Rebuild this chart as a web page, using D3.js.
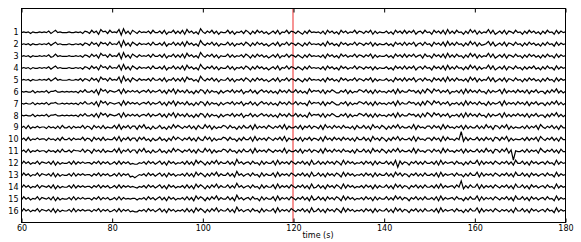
<!DOCTYPE html>
<html>
<head>
<meta charset="utf-8">
<script src="https://cdn.jsdelivr.net/npm/d3@7"></script>
<style>
  body { margin: 0; background: #fff; }
  svg text { font-family: "DejaVu Sans", sans-serif; font-size: 8px; fill: #000; }
</style>
</head>
<body>
<div class="chart"></div>
<script>
// Data: channel labels, x ticks, and one digit string per channel (one sample every 0.5 s, 60-180 s)
const channels = [1, 2, 3, 4, 5, 6, 7, 8, 9, 10, 11, 12, 13, 14, 15, 16];
const xTicks = [60, 80, 100, 120, 140, 160, 180];
const timeRange = [60, 180];
const markerTime = 120;

const ch1 = '4545354454 5463574544 4544545365 3746285637 4548193627 5364546374 4637254736 3728463529 5364736254 4736254637 5263746352 4637254736 5364263745 4536274635 2746354736 5364726354 4635274637 3647256374 5274637283 6374526384 7263548372 4637265374 5263746352 6374527364 5';
const ch2 = '4545354454 5463574544 4544545365 3746275637 4548193627 5364546374 4637254736 3728463529 5364736254 4736254637 5263746352 4637254736 5364263745 4536284635 2746354736 5364726354 4635274637 3647256374 5274637283 6374526384 7263458372 4637265374 5263746352 6374527364 5';
const ch3 = '4545354454 5463474544 4544545365 3746285637 4548193627 5364546374 4637254736 3728463529 5364736254 4736354637 5263746352 4637254736 5364263745 4536274635 2746354736 5364726354 4635274637 3647356274 5274637283 6374526384 7263548372 4637265374 5263746352 6374527364 5';
const ch4 = '4545354454 5463574544 4544545365 3746285637 4548293627 5364546374 4637254736 3728463529 5364736254 4736254637 5263746352 4637254736 5364263745 4536274635 2746354736 5364626354 4635274637 3647256374 5274637283 6374526384 7263548372 4637265374 5263647352 6374527364 5';
const ch5 = '4545354454 5463574544 4544546365 3746285637 4548193627 5364546374 4637254736 3728563529 5364736254 4736254637 5263746352 4637254736 5364263745 4536274635 2746354736 5364726354 4635274637 3647256374 5274637283 6374536284 7263548372 4637265374 5263746352 6374527364 5';
const ch6 = '5454463545 4635564454 5454536474 4637185736 5457283646 4635647364 5736274827 4637352637 6273645263 5647364725 4736257463 6352746374 4736352846 5637264753 3647263547 6473627364 5364728364 4756362738 6385736472 5463728374 6374527364 5728364637 4637264735 5263748363 5';
const ch7 = '5454463545 4635564454 5454536474 4637185736 5456283746 4635647364 5736274827 4637352637 6273645263 5647364725 4736257463 6352746374 4736452846 5637264753 3647263547 6473627364 5364728364 4756362738 6385736472 5463628374 6374527364 5728364637 4637264735 5263748363 5';
const ch8 = '5454463545 4635564454 5454536474 4637285736 5457283646 4635647364 5736274827 4637352637 6273645263 5647364725 4736357463 6352746374 4736352846 5637264753 3647263547 6473627364 5364728364 4756362738 6385736472 5463728374 6374527364 5728363647 4637264735 5263748363 5';
const ch9 = '4637354645 5364536374 4636454736 5274637354 4738264736 6274835263 4735263847 5364736274 3847263547 6374526374 4728364637 5364738264 4637264736 5372846374 6374536274 4736284637 5263748364 4638274536 6374628374 5364727364 4736384627 6374826354 4637364728 5364736274 4';
const ch10 = '4637354645 5364536374 4636454736 5274637354 4738264736 6274735263 4735263847 5364736274 3847263547 6374526374 4728364637 5364738264 4637264736 5372846374 6374636274 4736284637 5263748364 4638274536 6374628374 5364727364 4736374627 6374826354 4637364728 5364736274 4';
const ch11 = '4637354645 5364536374 4636554736 5274637354 4738264736 6274835263 4735263847 5364736274 3847263547 6374526374 4728364637 5364638264 4637264736 5372846374 6374536274 4736284637 5263748364 4638274536 6374628374 5364727364 4736384627 6374826354 4637364628 5364736274 4';
const ch12 = '3746354736 5463726354 4637364645 5364736463 4637364634 3354637463 5736274635 4637362847 5263748364 4736294635 6374527364 4728364637 5364736283 4736374637 5283746354 6374627364 4736284736 5264736374 4637283645 6374526374 4827364637 5364736284 4736274635 6374528364 5';
const ch13 = '3746354736 5463726354 4637364645 5364736463 4637364623 1354637463 5736274635 4637362847 5263748364 4736294635 6374527364 4728364637 5364736283 4736274637 5283746354 6374627364 4736284736 5264736374 4637283645 6374526374 4827364637 5364736284 4736274635 6374528364 5';
const ch14 = '3746354736 5463726354 4637364645 5364736463 4637364645 4354637463 5736274635 4637362847 5263748364 4736394635 6374527364 4728364637 5364736283 4736274637 5283746354 6374627364 4736284736 5264736374 4637383645 6374526374 4827364637 5364736284 4736274635 6374528364 5';
const ch15 = '3746354736 5463726354 4637364645 5364736463 4637364545 5354637463 5736274635 4637362847 5263748364 4736294635 6374527364 4728364637 5364736283 4736274637 5283746354 6374627364 4736384736 5264736374 4637283645 6374526374 4827364637 5364736284 4736274635 6374528364 5';
const ch16 = '3746354736 5463726354 4637364645 5364736463 4637364634 3354637463 5736274635 4637362847 5263748364 4736294635 6374527364 4728364637 5364736283 4736274637 5283746354 6374627364 4736284736 5264736374 4637283645 6374526374 4827364637 5364636284 4736274635 6374528364 5';
const traces = [ch1, ch2, ch3, ch4, ch5, ch6, ch7, ch8, ch9, ch10, ch11, ch12, ch13, ch14, ch15, ch16];

// Isolated spikes (channel, time in s, value in channel units)
const spikes = [
  { ch: 10, t: 157, v: 0.65 },
  { ch: 14, t: 157, v: 0.5 },
  { ch: 11, t: 168.5, v: -0.75 },
  { ch: 12, t: 143, v: -0.35 }
];

// Layout
const width = 581;
const height = 242;
const amp = 0.3; // half range of a digit trace, in channel units

const svg = d3.select('.chart')
  .append('svg')
  .attr('width', width)
  .attr('height', height);

const x = d3.scaleLinear().domain(timeRange).range([21.5, 565.5]);
const y = d3.scaleLinear().domain([-1, 17]).range([8.5, 222.5]);

// Turn a digit string into [time, value] samples
function parseTrace(str, ch) {
  const digits = str.replace(/\s+/g, '').split('').map(Number);
  const t = d3.scaleLinear().domain([0, digits.length - 1]).range(timeRange);
  const pts = digits.map((d, i) => [t(i), ch - (d - 4.5) / 4.5 * amp]);
  spikes.filter(s => s.ch === ch).forEach(s => {
    const i = Math.round(t.invert(s.t));
    pts[i] = [t(i), ch - s.v];
  });
  return pts;
}

const line = d3.line()
  .x(d => x(d[0]))
  .y(d => y(d[1]));

// Marker line, under the traces (half-pixel offset spreads it over two columns)
svg.append('line')
  .attr('x1', x(markerTime) - 0.5).attr('x2', x(markerTime) - 0.5)
  .attr('y1', y.range()[0]).attr('y2', y.range()[1])
  .attr('stroke', '#ee3b3b')
  .attr('stroke-width', 1.1);

// Traces
svg.append('g')
  .selectAll('path')
  .data(traces.map((s, i) => parseTrace(s, channels[i])))
  .enter()
  .append('path')
  .attr('d', line)
  .attr('fill', 'none')
  .attr('stroke', '#000')
  .attr('stroke-width', 1.2)
  .attr('stroke-linejoin', 'miter');

// Axes (ticks pointing inward)
svg.append('g')
  .attr('transform', `translate(0, ${y.range()[1]})`)
  .call(d3.axisBottom(x).tickValues(xTicks).tickSize(-4).tickPadding(3))
  .call(g => g.select('.domain').remove());

svg.append('g')
  .attr('transform', `translate(0, ${y.range()[0]})`)
  .call(d3.axisTop(x).tickValues(xTicks).tickSize(-4).tickFormat(''))
  .call(g => g.select('.domain').remove());

svg.append('g')
  .attr('transform', `translate(${x.range()[0]}, 0)`)
  .call(d3.axisLeft(y).tickValues(channels).tickSize(0).tickPadding(3))
  .call(g => g.select('.domain').remove());

svg.selectAll('.tick text').attr('font-size', null).attr('font-family', null);
svg.selectAll('.tick line').attr('stroke', '#000');

// Frame
svg.append('rect')
  .attr('x', x.range()[0]).attr('y', y.range()[0])
  .attr('width', x.range()[1] - x.range()[0])
  .attr('height', y.range()[1] - y.range()[0])
  .attr('fill', 'none')
  .attr('stroke', '#000')
  .attr('stroke-width', 1);

// Axis label
svg.append('text')
  .attr('x', 318)
  .attr('y', 238)
  .attr('text-anchor', 'middle')
  .text('time (s)');
</script>
</body>
</html>
